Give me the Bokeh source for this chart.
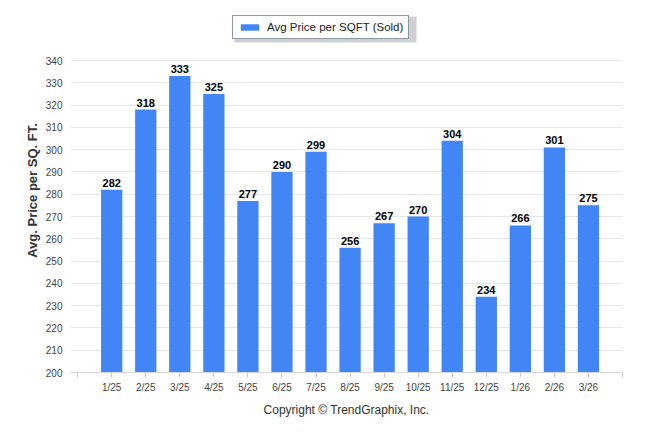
from bokeh.plotting import figure
from bokeh.models import (ColumnDataSource, FixedTicker, Legend, LegendItem, LabelSet,
                          Range1d, BoxAnnotation)
from bokeh.core.properties import value
from bokeh.embed import file_html
from bokeh.resources import INLINE

months = ["1/25", "2/25", "3/25", "4/25", "5/25", "6/25", "7/25", "8/25",
          "9/25", "10/25", "11/25", "12/25", "1/26", "2/26", "3/26"]
prices = [282, 318, 333, 325, 277, 290, 299, 256, 267, 270, 304, 234, 266, 301, 275]
y_ticks = list(range(200, 341, 10))
series_name = "Avg Price per SQFT (Sold)"

n = len(months)
xs = list(range(n))
src = ColumnDataSource(dict(x=xs, top=prices, label=[str(v) for v in prices]))

FONT = "Liberation Sans"

# frame spans canvas y 8..372; axis 200..340 occupies 60..372 -> headroom above for legend
top_px, frame_top, frame_bottom = 8, 60, 372
units_per_px = (y_ticks[-1] - y_ticks[0]) / (frame_bottom - frame_top)
y_end = y_ticks[-1] + (frame_top - top_px) * units_per_px

p = figure(width=646, height=426, output_backend="svg", toolbar_location=None,
           x_range=Range1d(-1.21, n), y_range=Range1d(y_ticks[0], y_end),
           min_border_left=70, min_border_right=24, min_border_top=top_px,
           min_border_bottom=426 - frame_bottom)
p.outline_line_color = None

r = p.vbar(x="x", top="top", bottom=y_ticks[0], width=0.625, source=src,
           fill_color="#4285F4", line_color=None)

labels = LabelSet(x="x", y="top", text="label", source=src, text_align="center",
                  text_baseline="bottom", y_offset=3, text_font=value(FONT),
                  text_font_style="bold", text_font_size="11px", text_color="#000000")
p.add_layout(labels)

# x axis
x_tick_pos = list(range(-1, n + 1))
overrides = {i: "" for i in x_tick_pos}
overrides.update({i: m for i, m in zip(xs, months)})
p.xaxis.ticker = FixedTicker(ticks=x_tick_pos)
p.xaxis.major_label_overrides = overrides
p.xaxis.major_tick_line_color = "#cccccc"
p.xaxis.major_tick_out = 5
p.xaxis.major_tick_in = 0
p.xaxis.minor_tick_line_color = None
p.xaxis.axis_line_color = "#d8d8d8"
p.xaxis.major_label_text_font = FONT
p.xaxis.major_label_text_font_size = "10px"
p.xaxis.major_label_text_color = "#444444"
p.xaxis.major_label_standoff = 4
p.xaxis.axis_label = "Copyright \u00a9 TrendGraphix, Inc."
p.xaxis.axis_label_text_font = FONT
p.xaxis.axis_label_text_font_style = "normal"
p.xaxis.axis_label_text_font_size = "12px"
p.xaxis.axis_label_text_color = "#333333"
p.xaxis.axis_label_standoff = 7

# y axis
p.yaxis.ticker = FixedTicker(ticks=y_ticks)
p.yaxis.axis_line_color = None
p.yaxis.major_tick_line_color = None
p.yaxis.minor_tick_line_color = None
p.yaxis.major_label_text_font = FONT
p.yaxis.major_label_text_font_size = "10px"
p.yaxis.major_label_text_color = "#444444"
p.yaxis.major_label_standoff = 2
p.yaxis.axis_label = "Avg. Price per SQ. FT."
p.yaxis.axis_label_text_font = FONT
p.yaxis.axis_label_text_font_style = "bold"
p.yaxis.axis_label_text_font_size = "13px"
p.yaxis.axis_label_text_color = "#333333"
p.yaxis.axis_label_standoff = 3

p.xgrid.grid_line_color = None
p.ygrid.grid_line_color = "#e6e6e6"
p.ygrid.ticker = FixedTicker(ticks=y_ticks)

# legend drop shadow
shadow = BoxAnnotation(left=234, right=416, top=16, bottom=42,
                       left_units="canvas", right_units="canvas",
                       top_units="canvas", bottom_units="canvas",
                       fill_color="#888888", fill_alpha=0.4, line_color=None)
p.add_layout(shadow)

legend = Legend(items=[LegendItem(label=series_name, renderers=[r])],
                location=(162, 333), orientation="horizontal",
                label_text_font=FONT, label_text_font_size="11.5px",
                glyph_width=23, glyph_height=8, padding=5, margin=0, spacing=0,
                label_standoff=6, label_height=12,
                border_line_color="#1f2d4d", border_line_width=1,
                background_fill_color="white", background_fill_alpha=1,
                label_text_color="#222222")
p.add_layout(legend, "center")

open("out.html", "w").write(file_html(p, INLINE))
